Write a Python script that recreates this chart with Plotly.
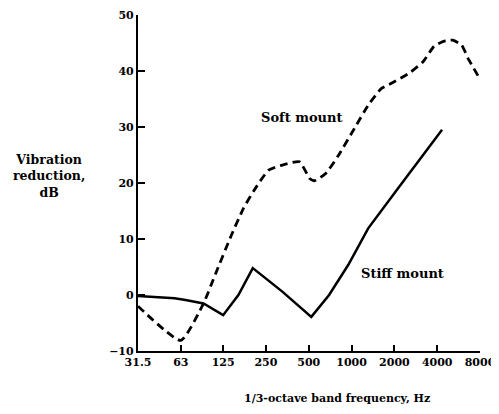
import plotly.graph_objects as go

# Tick labels (octave band centre frequencies, Hz)
tick_freqs = [31.5, 63, 125, 250, 500, 1000, 2000, 4000, 8000]
tick_labels = ["31.5", "63", "125", "250", "500", "1000", "2000", "4000", "8000"]
y_ticks = [-10, 0, 10, 20, 30, 40, 50]
y_tick_labels = ["\u221210", "0", "10", "20", "30", "40", "50"]

# Soft mount (dashed)
soft_freq = [31.5, 63, 91, 111, 143, 174, 204, 261, 326, 430, 508, 549, 658, 812,
             1050, 1309, 1623, 1906, 2537, 3193, 3797, 4427, 5140, 5955, 6575, 7811]
soft_db = [-2.0, -8.1, -1.5, 3.9, 10.7, 15.5, 18.5, 22.3, 23.2, 23.8, 20.8, 20.4, 21.7, 25.0,
           29.8, 33.9, 36.9, 37.8, 39.6, 41.7, 44.4, 45.3, 45.5, 44.6, 42.3, 39.0]

# Stiff mount (solid)
stiff_freq = [31.5, 57, 68, 91, 125, 160, 202, 326, 521, 695, 949, 1309, 2131, 3482, 4328]
stiff_db = [-0.2, -0.6, -0.9, -1.5, -3.6, 0.0, 4.8, 0.6, -3.9, 0.0, 5.4, 11.9, 19.1, 26.2, 29.5]

serif = "DejaVu Serif"

# page body has an 8px margin; plot area in page pixels: x 138..480, y 15..351
OFF = 8
PX0, PX1, PY0, PY1 = 138, 480, 15, 351


def px(x):
    return (x - PX0) / (PX1 - PX0)


def py(y):
    return (PY1 - y) / (PY1 - PY0)


fig = go.Figure()
fig.add_trace(go.Scatter(x=soft_freq, y=soft_db, mode="lines",
                         line=dict(color="black", width=2.8, dash="8px,5px", shape="spline", smoothing=0.5),
                         showlegend=False, hoverinfo="skip"))
fig.add_trace(go.Scatter(x=stiff_freq, y=stiff_db, mode="lines",
                         line=dict(color="black", width=2.5),
                         showlegend=False, hoverinfo="skip"))

font_small = dict(family=serif, size=11, color="black", weight="bold")
font_big = dict(family=serif, size=13, color="black", weight="bold")
anns = [
    dict(text="Vibration<br>reduction,<br>dB", xref="paper", yref="paper", x=px(49), y=py(176),
         showarrow=False, font=dict(family=serif, size=12.5, color="black", weight="bold"),
         xanchor="center", yanchor="middle", align="center"),
    dict(text="1/3-octave band frequency, Hz", xref="paper", yref="paper",
         x=px(337), y=py(398), showarrow=False, font=font_small,
         xanchor="center", yanchor="middle"),
    dict(text="Soft mount", xref="paper", yref="paper",
         x=px(302), y=py(117), showarrow=False, font=font_big,
         xanchor="center", yanchor="middle"),
    dict(text="Stiff mount", xref="paper", yref="paper",
         x=px(402), y=py(273), showarrow=False, font=font_big,
         xanchor="center", yanchor="middle"),
]

fig.update_layout(
    width=499, height=414,
    margin=dict(l=PX0 - OFF, r=499 - (PX1 - OFF), t=PY0 - OFF, b=414 - (PY1 - OFF), autoexpand=False),
    paper_bgcolor="white", plot_bgcolor="white",
    xaxis=dict(type="log", range=[1.4983, 3.9031],
               tickvals=tick_freqs, ticktext=tick_labels,
               ticks="inside", ticklen=6, tickwidth=2, tickcolor="black",
               showline=True, linecolor="black", linewidth=2.2,
               showgrid=False, zeroline=False, automargin=False,
               tickfont=font_small),
    yaxis=dict(range=[-10, 50], tickvals=y_ticks, ticktext=y_tick_labels,
               ticks="inside", ticklen=7, tickwidth=2, tickcolor="black",
               showline=True, linecolor="black", linewidth=2.2,
               showgrid=False, zeroline=False, automargin=False,
               tickfont=font_small),
    annotations=anns,
)

fig.write_html("out.html")
